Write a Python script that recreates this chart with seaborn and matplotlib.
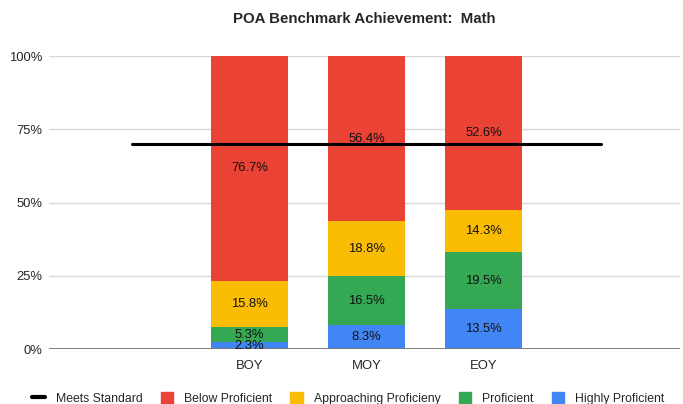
import numpy as np
import pandas as pd
import seaborn as sns
import matplotlib.pyplot as plt
from matplotlib.lines import Line2D
from matplotlib.patches import Patch

periods = ["BOY", "MOY", "EOY"]
highly_proficient = [2.3, 8.3, 13.5]
proficient = [5.3, 16.5, 19.5]
approaching = [15.8, 18.8, 14.3]
below_proficient = [76.7, 56.4, 52.6]
meets_standard = 70

levels = ["Highly Proficient", "Proficient", "Approaching Proficieny", "Below Proficient"]
colors = {"Highly Proficient": "#4285F4", "Proficient": "#34A853",
          "Approaching Proficieny": "#FBBC04", "Below Proficient": "#EA4335"}

df = pd.DataFrame({"period": periods,
                   "Highly Proficient": highly_proficient,
                   "Proficient": proficient,
                   "Approaching Proficieny": approaching,
                   "Below Proficient": below_proficient})
totals = df[levels].sum(axis=1)
cum = df[levels].div(totals, axis=0).mul(100).cumsum(axis=1)

sns.set_style("white")
plt.rcParams["font.family"] = ["Liberation Sans", "DejaVu Sans"]
fs = 8.8

order = ["pad_l"] + periods + ["pad_r"]

fig = plt.figure(figsize=(6.83, 4.04), dpi=100)
ax = fig.add_axes([0.072, 0.136, 0.924, 0.725])

# stacked bars: draw cumulative tops, biggest first
for lvl in reversed(levels):
    sns.barplot(x=df["period"], y=cum[lvl], order=order, color=colors[lvl],
                width=0.655, saturation=1, linewidth=0, edgecolor="none",
                ax=ax, zorder=2)

# labels in the middle of each segment
for i, p in enumerate(periods):
    bottom = 0
    for lvl in levels:
        top = cum.loc[i, lvl]
        ax.text(order.index(p), (bottom + top) / 2, f"{df.loc[i, lvl]:.1f}%",
                ha="center", va="center", fontsize=fs + 0.6, color="#111111", zorder=5)
        bottom = top

# meets standard line across all slots
xs = np.arange(len(order))
sns.lineplot(x=[xs[0], xs[-1]], y=[meets_standard, meets_standard],
             color="black", linewidth=2.2, ax=ax, zorder=4)

ax.set_xlim(-0.71, len(order) - 1 + 0.68)
ax.set_ylim(0, 100)
ax.set_yticks([0, 25, 50, 75, 100])
ax.set_yticklabels(["0%", "25%", "50%", "75%", "100%"], fontsize=fs + 0.6)
ax.set_xticks(xs)
ax.set_xticklabels(["", *periods, ""], fontsize=fs + 0.6)
ax.set_xlabel("")
ax.set_ylabel("")
ax.tick_params(axis="x", length=0, pad=8)
ax.tick_params(axis="y", length=0, pad=5)
ax.yaxis.grid(True, color="#d9d9d9", linewidth=1, zorder=0)
ax.set_axisbelow(True)
for s in ax.spines.values():
    s.set_visible(False)
ax.axhline(0, color="#777777", linewidth=1.3, zorder=3)

ax.set_title("POA Benchmark Achievement:  Math", fontsize=10.8, fontweight="bold", pad=24)

handles = [Line2D([0], [0], color="black", linewidth=3)]
handles += [Patch(color=colors[l]) for l in reversed(levels)]
labels = ["Meets Standard"] + list(reversed(levels))
fig.legend(handles, labels, loc="lower center", ncol=5, frameon=False, fontsize=fs,
           bbox_to_anchor=(0.51, -0.03), handlelength=1.0, handleheight=1.05,
           columnspacing=1.5, handletextpad=0.9)

fig.savefig("out.png", dpi=100)
